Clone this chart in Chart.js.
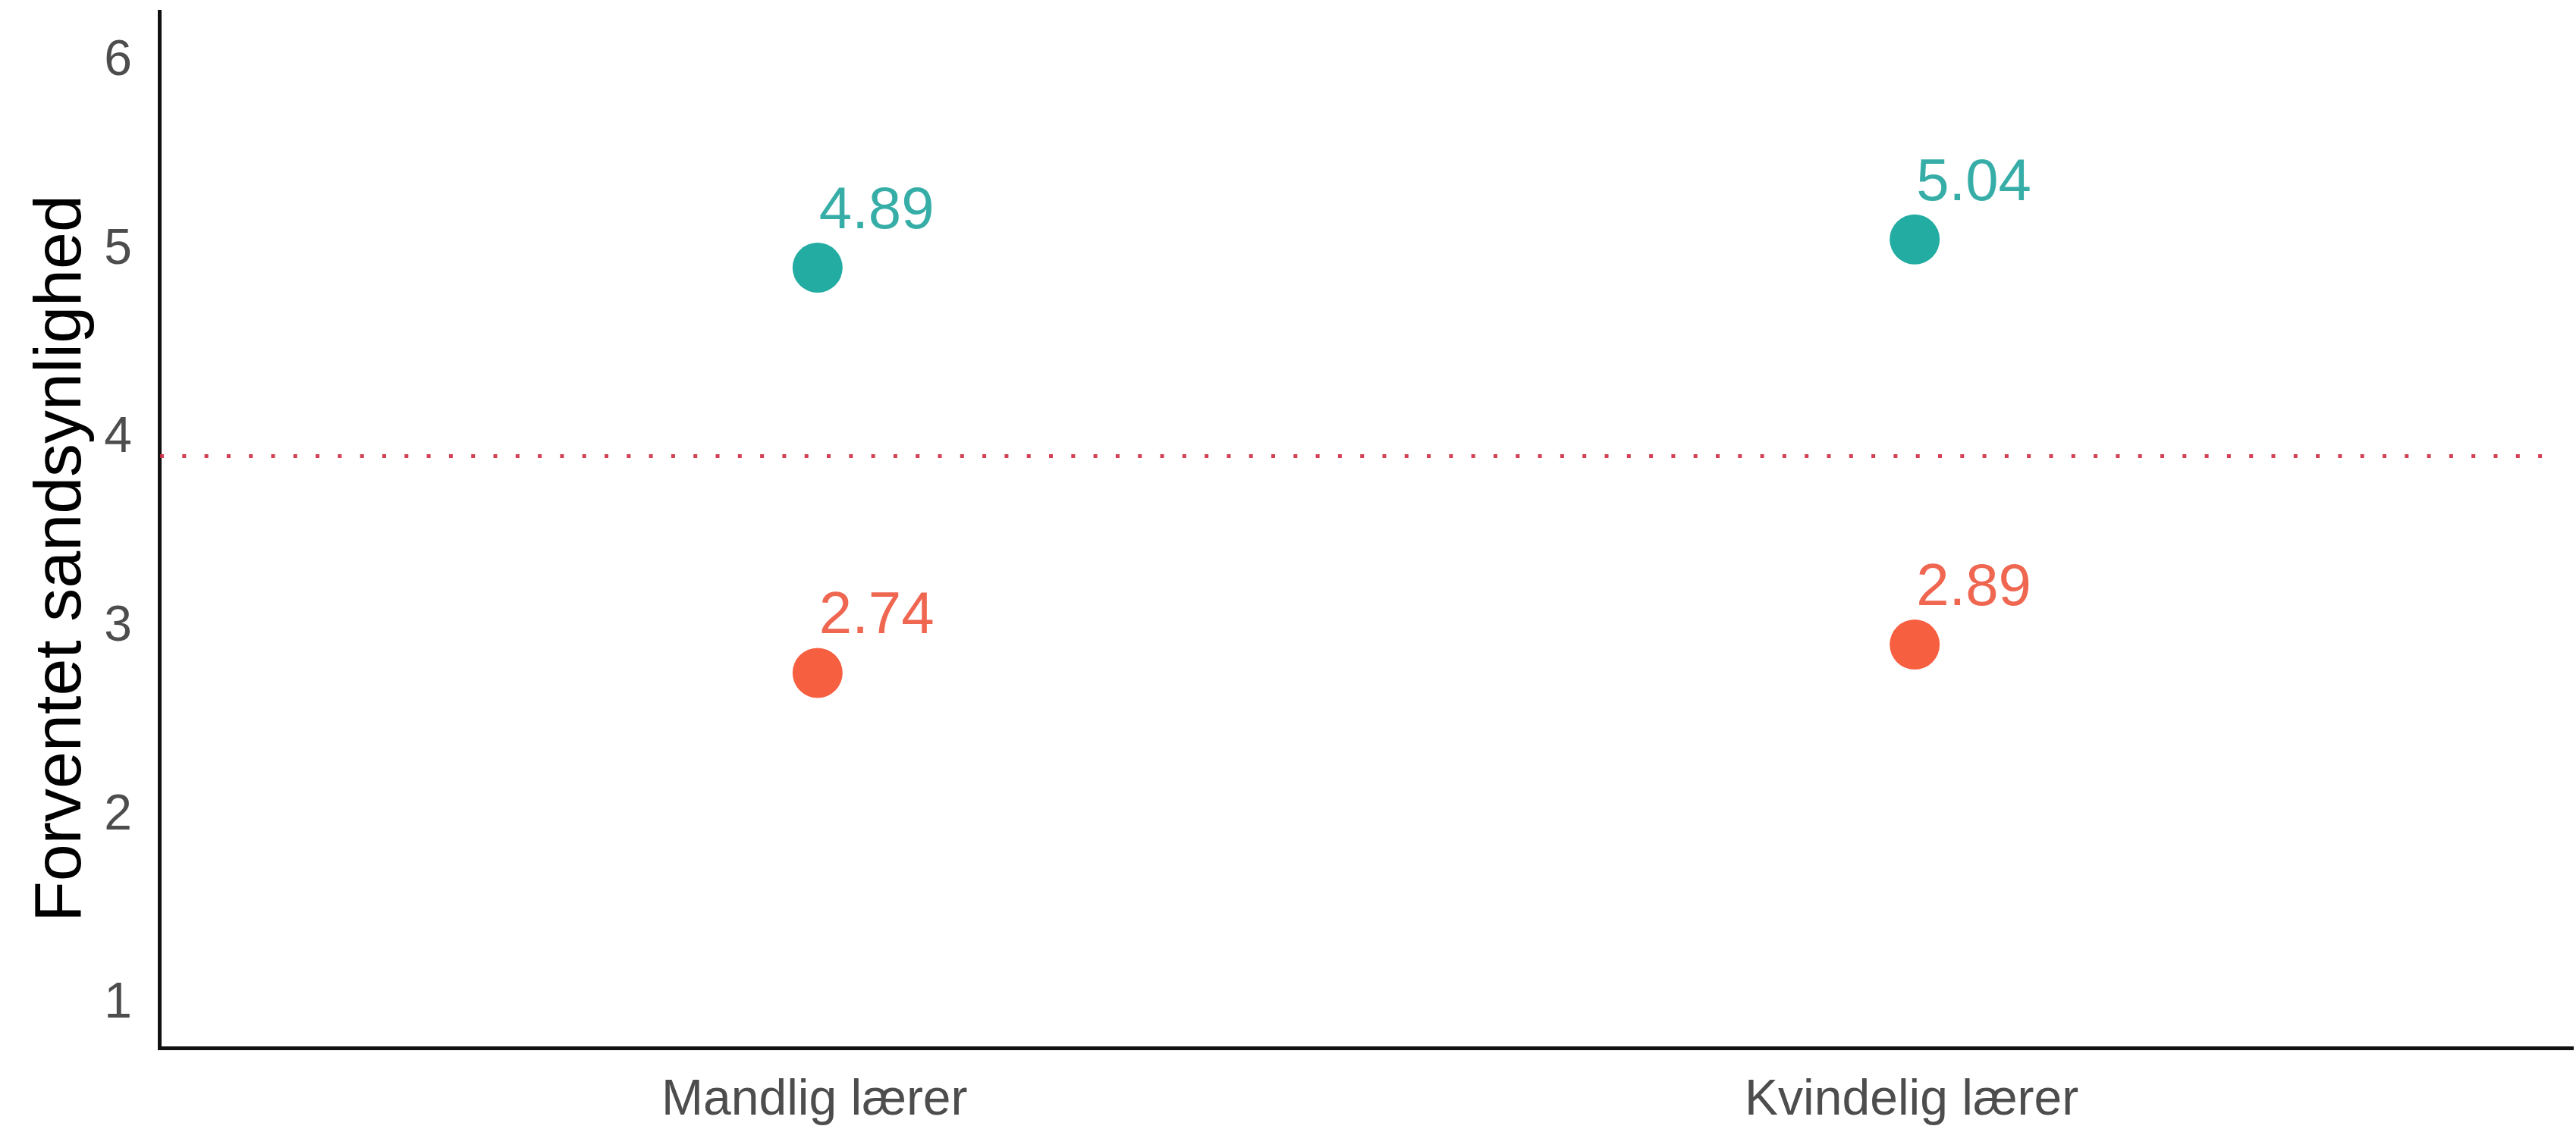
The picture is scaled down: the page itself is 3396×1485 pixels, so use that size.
<!DOCTYPE html>
<html>
<head>
    <script src="https://cdn.jsdelivr.net/npm/chart.js@4.4.1/dist/chart.umd.min.js"></script>
    <title>Forventet sandsynlighed</title>
    <style>
        html, body { margin: 0; padding: 0; background: #fff; }
        #wrap { width: 3396px; height: 1485px; }
    </style>
</head>
<body>
<div id="wrap"><canvas id="myChart" width="3396" height="1485"></canvas></div>

<script>
    // categories on the x axis
    var categories = ['Mandlig lærer', 'Kvindelig lærer'];
    // the two series (teal above, red below)
    var tealValues = [4.89, 5.04];
    var redValues = [2.74, 2.89];
    // dotted reference line
    var referenceValue = 3.89;
    // y axis ticks
    var yTicks = [1, 2, 3, 4, 5, 6];
    var yTitle = 'Forventet sandsynlighed';

    var tealColor = '#22aca2';
    var redColor = '#f75f41';
    var fontName = '"Liberation Sans", Arial, sans-serif';

    function toPoints(values) {
        var pts = [];
        for (var i = 0; i < values.length; i++) {
            pts.push({ x: i + 1, y: values[i] });
        }
        return pts;
    }

    // dotted horizontal line, value labels and the y title
    var extras = {
        id: 'extras',
        beforeDatasetsDraw: function(chart) {
            var ctx = chart.ctx;
            var area = chart.chartArea;
            var y = chart.scales.y.getPixelForValue(referenceValue);
            ctx.save();
            ctx.strokeStyle = 'rgba(205,45,65,0.9)';
            ctx.lineWidth = 5;
            ctx.setLineDash([5, 24.3]);
            ctx.beginPath();
            ctx.moveTo(area.left + 1, y);
            ctx.lineTo(area.right - 20, y);
            ctx.stroke();
            ctx.restore();

            // axis title, sits a bit below the middle like the original
            ctx.save();
            ctx.translate(82, (area.top + area.bottom) / 2 + 38);
            ctx.rotate(-Math.PI / 2);
            ctx.font = '88px ' + fontName;
            ctx.fillStyle = '#000';
            ctx.textAlign = 'center';
            ctx.textBaseline = 'middle';
            ctx.fillText(yTitle, 0, 0);
            ctx.restore();
        },
        afterDatasetsDraw: function(chart) {
            var ctx = chart.ctx;
            ctx.save();
            ctx.font = '78px ' + fontName;
            ctx.textAlign = 'left';
            ctx.textBaseline = 'alphabetic';
            chart.data.datasets.forEach(function(ds, di) {
                var meta = chart.getDatasetMeta(di);
                meta.data.forEach(function(pt, i) {
                    ctx.fillStyle = ds.labelColor;
                    ctx.fillText(ds.data[i].y.toFixed(2), pt.x + 2, pt.y - 52);
                });
            });
            ctx.restore();
        }
    };

    var ctx = document.getElementById('myChart').getContext('2d');
    var myChart = new Chart(ctx, {
        type: 'scatter',
        data: {
            datasets: [
                {
                    label: 'teal',
                    data: toPoints(tealValues),
                    backgroundColor: tealColor,
                    borderWidth: 0,
                    pointRadius: 33,
                    labelColor: '#36aea7'
                },
                {
                    label: 'red',
                    data: toPoints(redValues),
                    backgroundColor: redColor,
                    borderWidth: 0,
                    pointRadius: 33,
                    labelColor: '#ef6651'
                }
            ]
        },
        options: {
            responsive: false,
            animation: false,
            layout: { autoPadding: false, padding: { top: 15, right: 4, left: 0, bottom: 0 } },
            plugins: {
                legend: { display: false },
                tooltip: { enabled: false }
            },
            scales: {
                x: {
                    type: 'linear',
                    min: 0.4,
                    max: 2.6,
                    afterBuildTicks: function(scale) {
                        scale.ticks = categories.map(function(c, i) { return { value: i + 1 }; });
                    },
                    afterFit: function(scale) {
                        scale.height = 103;
                        scale.paddingLeft = 0;
                        scale.paddingRight = 0;
                    },
                    grid: { display: false, drawTicks: false, tickLength: 0 },
                    border: { display: true, color: '#111', width: 5 },
                    ticks: {
                        color: '#4d4d4d',
                        padding: 30,
                        maxRotation: 0,
                        autoSkip: false,
                        labelOffset: -4,
                        font: { family: fontName, size: 66 },
                        callback: function(v) { return categories[v - 1]; }
                    }
                },
                y: {
                    min: 0.75,
                    max: 6.25,
                    afterBuildTicks: function(scale) {
                        scale.ticks = yTicks.map(function(v) { return { value: v }; });
                    },
                    afterFit: function(scale) {
                        scale.width = 210;
                        scale.paddingTop = 0;
                        scale.paddingBottom = 0;
                    },
                    grid: { display: false, drawTicks: false, tickLength: 0 },
                    border: { display: true, color: '#111', width: 5 },
                    ticks: {
                        color: '#4d4d4d',
                        padding: 36,
                        labelOffset: 4,
                        font: { family: fontName, size: 66 }
                    },
                    title: { display: false }
                }
            }
        },
        plugins: [extras]
    });
</script>
</body>
</html>
